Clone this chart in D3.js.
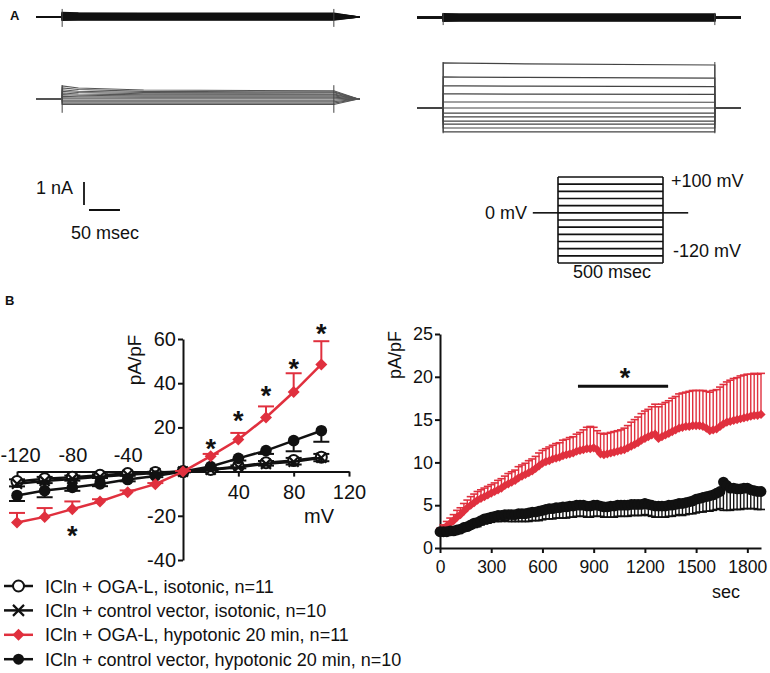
<!DOCTYPE html>
<html><head><meta charset="utf-8">
<script src="https://cdn.jsdelivr.net/npm/d3@7"></script>
<style>
body{margin:0;background:#fff}
svg text{font-family:"Liberation Sans",Arial,Helvetica,sans-serif;fill:#111}
</style>
</head><body><script>
// ================= DATA =================
// Panel A – current traces (nA relative to holding level), sampled at 0, 30, 150 and 500 ms of the step
const traceSampleMs = [0,30,150,500];
const isoLeftT0     = [0.19,0.16,0.13,0.10,0.07,0.04,0.01,-0.02,-0.05,-0.08,-0.11,-0.14];
const isoLeftT30    = [0.17,0.15,0.12,0.09,0.06,0.03,0.00,-0.03,-0.06,-0.08,-0.11,-0.13];
const isoLeftT150   = [0.16,0.14,0.12,0.09,0.06,0.03,0.00,-0.03,-0.06,-0.08,-0.11,-0.13];
const isoLeftT500   = [0.16,0.14,0.12,0.09,0.06,0.03,0.00,-0.03,-0.06,-0.08,-0.11,-0.13];
const hypoLeftT0    = [0.57,0.48,0.40,0.33,0.26,0.19,0.12,0.05,-0.05,-0.12,-0.18,-0.24];
const hypoLeftT30   = [0.48,0.41,0.34,0.28,0.22,0.16,0.10,0.04,-0.05,-0.12,-0.18,-0.24];
const hypoLeftT150  = [0.39,0.33,0.28,0.23,0.18,0.13,0.08,0.03,-0.05,-0.12,-0.18,-0.24];
const hypoLeftT500  = [0.36,0.31,0.27,0.22,0.18,0.13,0.08,0.03,-0.05,-0.12,-0.18,-0.24];
const isoRightT0    = [0.16,0.13,0.10,0.08,0.05,0.02,-0.01,-0.04,-0.07,-0.10,-0.13,-0.16];
const isoRightT30   = [0.15,0.12,0.10,0.07,0.05,0.02,-0.01,-0.04,-0.07,-0.10,-0.13,-0.15];
const isoRightT150  = [0.15,0.12,0.10,0.07,0.05,0.02,-0.01,-0.04,-0.07,-0.10,-0.13,-0.15];
const isoRightT500  = [0.15,0.12,0.10,0.07,0.05,0.02,-0.01,-0.04,-0.07,-0.10,-0.13,-0.15];
const hypoRightT0   = [1.96,1.35,0.96,0.61,0.26,0.00,-0.22,-0.39,-0.57,-0.70,-0.87,-1.04];
const hypoRightT30  = [1.95,1.34,0.96,0.61,0.26,0.00,-0.22,-0.39,-0.57,-0.70,-0.87,-1.04];
const hypoRightT150 = [1.92,1.33,0.95,0.60,0.26,0.00,-0.22,-0.39,-0.57,-0.70,-0.87,-1.04];
const hypoRightT500 = [1.87,1.30,0.93,0.59,0.25,0.00,-0.22,-0.39,-0.57,-0.70,-0.87,-1.04];
const spikeIsoLeft = [0.35,-0.43], spikeHypoLeft = [0.6,-0.6];
const spikeIsoRight = [0.2,-0.33], spikeHypoRight = [2.0,-1.1];
const protocolLevels = [100,80,60,40,20,0,-20,-40,-60,-80,-100,-120,-140];

// Panel B left – I/V relation (pA/pF)
const ivVoltages   = [-120,-100,-80,-60,-40,-20,0,20,40,60,80,100];
const ivOgaIso     = [-4.5,-3.2,-2.5,-1.7,-0.9,-0.4,0,1.0,2.3,4.0,5.0,6.5];
const ivOgaIsoErr  = [1.0,0.8,0.7,0.5,0.4,0.3,0.2,0.3,0.5,0.8,1.2,1.5];
const ivCtrlIso    = [-5.5,-4.2,-3.3,-2.3,-1.4,-0.6,0,0.8,2.0,3.5,4.5,6.3];
const ivCtrlIsoErr = [1.2,1.0,0.8,0.6,0.5,0.3,0.2,0.3,0.5,0.8,1.3,1.6];
const ivOgaHypo    = [-23,-20.5,-17,-13.5,-9.3,-5.7,0,7,14.5,24.5,36,48.5];
const ivOgaHypoErr = [4.3,4.0,3.5,1.0,0.8,0.5,0.3,1.0,3.0,5.0,8.5,10.5];
const ivCtrlHypo   = [-10.8,-8.6,-7.2,-5.6,-3.6,-2.0,0,2.3,6.0,9.5,14.0,18.5];
const ivCtrlHypoErr= [2.5,3.0,1.5,1.0,0.8,0.5,0.3,0.8,1.0,1.5,4.8,5.0];
const ivXTicks = [-120,-80,-40,40,80,120];
const ivYTicks = [-40,-20,20,40,60];
const ivStarVoltages = [-80,20,40,60,80,100];
const ivStarValues   = [-26.2,13.1,25.8,37.1,49.3,65.2];

// Panel B right – time course (pA/pF)
const timeSec = [0,20,40,60,80,100,120,140,160,180,200,220,240,260,280,300,320,340,360,380,400,420,440,460,480,500,520,540,560,580,600,620,640,660,680,700,720,740,760,780,800,820,840,860,880,900,920,940,960,980,1000,1020,1040,1060,1080,1100,1120,1140,1160,1180,1200,1220,1240,1260,1280,1300,1320,1340,1360,1380,1400,1420,1440,1460,1480,1500,1520,1540,1560,1580,1600,1620,1640,1660,1680,1700,1720,1740,1760,1780,1800,1820,1840,1860,1880];
const tcOgaHypo = [2.0,2.3,2.6,2.9,3.2,3.6,
 3.9,4.3,4.7,5.0,5.3,5.6,5.8,6.0,6.2,6.4,
 6.6,6.8,7.0,7.3,7.5,7.7,7.9,8.2,8.4,8.6,8.8,9.0,9.3,9.6,9.9,
 10.1,10.2,10.4,10.5,10.6,10.8,10.9,11.0,11.1,11.3,11.4,11.5,11.6,11.6,11.7,
 11.5,11.0,10.9,11.0,11.1,11.2,11.3,11.4,11.5,11.7,11.9,12.1,12.3,12.6,12.8,
 13.0,13.2,13.3,12.8,13.0,13.2,13.4,13.6,13.8,14.0,14.1,14.2,14.2,14.3,14.3,
 14.3,14.2,14.0,13.7,13.8,13.9,14.2,14.5,14.7,14.8,14.9,15.0,15.1,15.2,15.3,15.4,15.5,15.5,15.6];
const tcOgaHypoErr = [0.3,0.4,0.5,0.6,0.7,0.8,
 0.8,0.9,0.9,1.0,1.0,1.0,1.0,1.0,1.0,1.0,
 1.0,1.1,1.1,1.1,1.2,1.2,1.2,1.3,1.3,1.3,1.4,1.4,1.4,1.5,1.5,
 1.5,1.6,1.6,1.7,1.7,1.8,1.8,1.9,1.9,2.0,2.1,2.3,2.5,2.6,2.4,
 2.2,2.4,2.4,2.4,2.4,2.4,2.4,2.4,2.5,2.6,2.8,2.9,3.0,3.1,3.2,
 3.2,3.3,3.5,3.7,3.8,3.8,3.8,3.9,3.9,4.0,4.0,4.0,4.1,4.1,4.1,
 4.1,4.2,4.3,4.5,4.6,4.6,4.6,4.6,4.7,4.8,4.9,4.9,5.0,5.0,5.0,4.9,4.9,4.8,4.8];
const tcCtrlHypo = [1.9,1.9,1.9,2.0,2.0,2.1,
 2.2,2.4,2.5,2.7,2.9,3.0,3.2,3.4,3.5,3.6,
 3.7,3.8,3.8,3.9,3.9,3.9,3.9,4.0,4.0,4.0,4.1,4.2,4.2,4.3,4.4,
 4.5,4.6,4.6,4.7,4.7,4.8,4.8,4.9,4.9,5.0,5.0,5.0,4.9,4.9,5.0,
 5.0,4.9,4.8,4.8,4.9,4.9,5.0,5.0,5.0,5.0,5.1,5.1,5.1,5.1,5.2,
 5.1,5.0,4.9,4.9,4.9,4.9,5.0,5.0,5.1,5.2,5.2,5.3,5.4,5.5,5.7,
 5.8,5.9,6.0,6.1,6.2,6.4,6.6,7.7,7.3,7.0,7.0,6.9,6.9,7.0,7.0,6.8,6.7,6.6,6.6];
const tcCtrlHypoErr = [0.2,0.2,0.2,0.2,0.3,0.3,
 0.3,0.4,0.4,0.4,0.5,0.5,0.5,0.6,0.6,0.6,
 0.6,0.7,0.7,0.7,0.8,0.8,0.8,0.9,0.9,0.9,1.0,1.0,1.0,1.1,1.1,
 1.1,1.2,1.2,1.2,1.2,1.3,1.3,1.3,1.3,1.3,1.3,1.3,1.3,1.3,1.3,
 1.3,1.2,1.2,1.2,1.3,1.3,1.3,1.3,1.3,1.3,1.3,1.3,1.3,1.3,1.3,
 1.3,1.3,1.3,1.3,1.3,1.3,1.3,1.3,1.3,1.3,1.4,1.4,1.4,1.5,1.6,
 1.6,1.7,1.7,1.8,1.8,1.9,2.0,3.3,2.9,2.6,2.5,2.4,2.4,2.4,2.4,2.2,2.1,2.1,2.1];
const tcXTicks = [0,300,600,900,1200,1500,1800];
const tcYTicks = [0,5,10,15,20,25];
const tcSigRange = [808,1336];
const tcSigLevel = 18.9;
const tcStar = [1084,20.6];

const legendLabels = [
  "ICln + OGA-L, isotonic, n=11",
  "ICln + control vector, isotonic, n=10",
  "ICln + OGA-L, hypotonic 20 min, n=11",
  "ICln + control vector, hypotonic 20 min, n=10"
];
const legendSymbols = ["open","cross","diamond","filled"];

// ================= DRAWING =================
const RED = "#e0303e";
const W = 770, H = 673;
const svg = d3.select("body").append("svg").attr("width", W).attr("height", H);
const plain = d => String(d);

// ---------- Panel A ----------
svg.append("text").attr("x", 10).attr("y", 20).attr("font-size", 13).attr("font-weight", "bold").text("A");

const txL = d3.scaleLinear().domain([-50, 550]).range([35, 361]);
const txR = d3.scaleLinear().domain([-50, 550]).range([416, 742]);
const nA = 23; // px per nA
const cy = base => d3.scaleLinear().domain([0, 1]).range([base, base - nA]);

function drawFamily(xs, ys, samples, spike, taper, color, width) {
  const g = svg.append("g");
  const line = d3.line().x(d => xs(d[0])).y(d => ys(d[1]));
  samples[0].forEach((s, i) => {
    const pts = [[-48, 0], [traceSampleMs[0], 0]];
    traceSampleMs.forEach((t, k) => pts.push([t, samples[k][i]]));
    if (taper) pts.push([545, 0]); else pts.push([traceSampleMs[3], 0]);
    pts.push([548, 0]);
    g.append("path").attr("d", line(pts)).attr("fill", "none").attr("stroke", color).attr("stroke-width", width);
  });
  [traceSampleMs[0], traceSampleMs[3]].forEach(t => {
    g.append("line").attr("x1", xs(t)).attr("x2", xs(t)).attr("y1", ys(spike[0])).attr("y2", ys(spike[1]))
      .attr("stroke", "#444").attr("stroke-width", 1);
  });
}
drawFamily(txL, cy(17), [isoLeftT0, isoLeftT30, isoLeftT150, isoLeftT500], spikeIsoLeft, true, "#111", 1.6);
drawFamily(txL, cy(99), [hypoLeftT0, hypoLeftT30, hypoLeftT150, hypoLeftT500], spikeHypoLeft, true, "#555", 1.1);
drawFamily(txR, cy(17.5), [isoRightT0, isoRightT30, isoRightT150, isoRightT500], spikeIsoRight, false, "#111", 1.6);
drawFamily(txR, cy(108), [hypoRightT0, hypoRightT30, hypoRightT150, hypoRightT500], spikeHypoRight, false, "#444", 1.2);

// scale bars
const sbY = cy(205);
svg.append("line").attr("x1", 84).attr("x2", 84).attr("y1", sbY(0)).attr("y2", sbY(1)).attr("stroke", "#111").attr("stroke-width", 1.8);
svg.append("line").attr("x1", 89).attr("x2", 89 + (txL(50) - txL(0)) * 1.14).attr("y1", 210).attr("y2", 210).attr("stroke", "#111").attr("stroke-width", 2);
svg.append("text").attr("x", 36).attr("y", 193.5).attr("font-size", 18).text("1 nA");
svg.append("text").attr("x", 71).attr("y", 238.5).attr("font-size", 18).text("50 msec");

// voltage protocol
const px = d3.scaleLinear().domain([0, 500]).range([558, 663]);
const pv = d3.scaleLinear().domain([100, -140]).range([177, 263]);
const pg = svg.append("g").attr("stroke", "#111").attr("stroke-width", 1.6);
protocolLevels.forEach(v => pg.append("line").attr("x1", px(0)).attr("x2", px(500)).attr("y1", pv(v)).attr("y2", pv(v)));
pg.append("line").attr("x1", px(0)).attr("x2", px(0)).attr("y1", pv(100)).attr("y2", pv(-140));
pg.append("line").attr("x1", px(500)).attr("x2", px(500)).attr("y1", pv(100)).attr("y2", pv(-140));
pg.append("line").attr("x1", px(-120)).attr("x2", px(0)).attr("y1", pv(0)).attr("y2", pv(0));
pg.append("line").attr("x1", px(500)).attr("x2", px(620)).attr("y1", pv(0)).attr("y2", pv(0));
svg.append("text").attr("x", 527).attr("y", pv(0) + 6).attr("font-size", 18).attr("text-anchor", "end").text("0 mV");
svg.append("text").attr("x", 671).attr("y", 186.5).attr("font-size", 18).text("+100 mV");
svg.append("text").attr("x", 673).attr("y", 256.5).attr("font-size", 18).text("-120 mV");
svg.append("text").attr("x", 612).attr("y", 278).attr("font-size", 18).attr("text-anchor", "middle").text("500 msec");

// ---------- Panel B ----------
svg.append("text").attr("x", 5).attr("y", 305).attr("font-size", 13).attr("font-weight", "bold").text("B");

function marker(g, type, x, y, r) {
  if (type === "open") {
    g.append("circle").attr("cx", x).attr("cy", y).attr("r", r).attr("fill", "#fff").attr("stroke", "#111").attr("stroke-width", 2);
  } else if (type === "cross") {
    g.append("path").attr("d", `M${x - r},${y - r}L${x + r},${y + r}M${x - r},${y + r}L${x + r},${y - r}`)
      .attr("stroke", "#111").attr("stroke-width", 2.2).attr("fill", "none");
  } else if (type === "diamond") {
    g.append("path").attr("d", `M${x},${y - r}L${x + r},${y}L${x},${y + r}L${x - r},${y}Z`).attr("fill", RED);
  } else {
    g.append("circle").attr("cx", x).attr("cy", y).attr("r", r).attr("fill", "#111");
  }
}

function axisStyle(g, fs) {
  g.selectAll("path.domain").attr("stroke", "#111").attr("stroke-width", 2);
  g.selectAll(".tick line").attr("stroke", "#111").attr("stroke-width", 2);
  g.selectAll(".tick text").attr("font-size", fs).attr("fill", "#111").attr("font-family", '"Liberation Sans",Arial,sans-serif');
}

// ---- I/V plot ----
const ivX = d3.scaleLinear().domain([-120, 120]).range([17, 349]);
const ivY = d3.scaleLinear().domain([-40, 60]).range([560, 339]);
const ivG = svg.append("g");

const gx = ivG.append("g").attr("transform", `translate(0,${ivY(0)})`)
  .call(d3.axisBottom(ivX).tickValues(ivXTicks).tickSize(5).tickSizeOuter(0).tickPadding(8).tickFormat(plain));
axisStyle(gx, 20);
gx.selectAll(".tick text").filter(d => d < 0).attr("y", -10).attr("dy", 0);
gx.selectAll(".tick text").filter(d => d === -120).attr("dx", 3);
const gy = ivG.append("g").attr("transform", `translate(${ivX(0)},0)`)
  .call(d3.axisLeft(ivY).tickValues(ivYTicks).tickSize(5).tickSizeOuter(0).tickPadding(2).tickFormat(plain));
axisStyle(gy, 20);
ivG.append("text").attr("transform", `translate(141,360) rotate(-90)`).attr("text-anchor", "middle").attr("font-size", 19).text("pA/pF");
ivG.append("text").attr("x", 319).attr("y", 523).attr("text-anchor", "middle").attr("font-size", 20).text("mV");

const ivSeries = [
  {v: ivOgaIso, e: ivOgaIsoErr, dir: 1, color: "#111", sym: "open", r: 5.5},
  {v: ivCtrlIso, e: ivCtrlIsoErr, dir: -1, color: "#111", sym: "cross", r: 5},
  {v: ivCtrlHypo, e: ivCtrlHypoErr, dir: -1, color: "#111", sym: "filled", r: 5.8},
  {v: ivOgaHypo, e: ivOgaHypoErr, dir: 1, color: RED, sym: "diamond", r: 6}
];
const ivLine = d3.line().x((d, i) => ivX(ivVoltages[i])).y(d => ivY(d));
ivSeries.forEach(s => {
  const g = ivG.append("g");
  s.v.forEach((val, i) => {
    const x = ivX(ivVoltages[i]), y0 = ivY(val), y1 = ivY(val + s.dir * s.e[i]);
    g.append("line").attr("x1", x).attr("x2", x).attr("y1", y0).attr("y2", y1).attr("stroke", s.color).attr("stroke-width", 2);
    g.append("line").attr("x1", x - 8).attr("x2", x + 8).attr("y1", y1).attr("y2", y1).attr("stroke", s.color).attr("stroke-width", 2);
  });
  g.append("path").attr("d", ivLine(s.v)).attr("fill", "none").attr("stroke", s.color).attr("stroke-width", 2.5);
  s.v.forEach((val, i) => marker(g, s.sym, ivX(ivVoltages[i]), ivY(val), s.r));
});
ivStarVoltages.forEach((v, i) => {
  ivG.append("text").attr("x", ivX(v)).attr("y", ivY(ivStarValues[i]) + 15).attr("text-anchor", "middle")
    .attr("font-size", 27).attr("font-weight", "bold").text("*");
});

// legend
legendLabels.forEach((lab, i) => {
  const y = 586 + i * 24.4;
  const g = svg.append("g");
  g.append("line").attr("x1", 4).attr("x2", 33).attr("y1", y).attr("y2", y)
    .attr("stroke", legendSymbols[i] === "diamond" ? RED : "#111").attr("stroke-width", 2.5);
  marker(g, legendSymbols[i], 18.5, y, legendSymbols[i] === "diamond" ? 6 : 5.5);
  g.append("text").attr("x", 45).attr("y", y + 6.5).attr("font-size", 18).text(lab);
});

// ---- time course ----
const tX = d3.scaleLinear().domain([0, 1880]).range([440, 761]);
const tY = d3.scaleLinear().domain([0, 25]).range([548, 334]);
const tG = svg.append("g");
const tgx = tG.append("g").attr("transform", `translate(0,${tY(0)})`)
  .call(d3.axisBottom(tX).tickValues(tcXTicks).tickSize(5).tickSizeOuter(0).tickPadding(8).tickFormat(plain));
axisStyle(tgx, 17.5);
const tgy = tG.append("g").attr("transform", `translate(${tX(0)},0)`)
  .call(d3.axisLeft(tY).tickValues(tcYTicks).tickSize(5).tickSizeOuter(0).tickPadding(2).tickFormat(plain));
axisStyle(tgy, 18);
tG.append("text").attr("transform", `translate(401,355) rotate(-90)`).attr("text-anchor", "middle").attr("font-size", 18).text("pA/pF");
tG.append("text").attr("x", 726).attr("y", 598).attr("text-anchor", "middle").attr("font-size", 18).text("sec");

const tLine = d3.line().x((d, i) => tX(timeSec[i])).y(d => tY(d));
[{v: tcOgaHypo, e: tcOgaHypoErr, dir: 1, color: RED, sym: "diamond", r: 4.6},
 {v: tcCtrlHypo, e: tcCtrlHypoErr, dir: -1, color: "#111", sym: "filled", r: 5.4}].forEach(s => {
  const g = tG.append("g");
  s.v.forEach((val, i) => {
    const x = tX(timeSec[i]), y1 = tY(val + s.dir * s.e[i]);
    g.append("line").attr("x1", x).attr("x2", x).attr("y1", tY(val)).attr("y2", y1).attr("stroke", s.color).attr("stroke-width", 1.4);
    g.append("line").attr("x1", x - 4).attr("x2", x + 4).attr("y1", y1).attr("y2", y1).attr("stroke", s.color).attr("stroke-width", 1.6);
  });
  g.append("path").attr("d", tLine(s.v)).attr("fill", "none").attr("stroke", s.color).attr("stroke-width", 2.5);
  s.v.forEach((val, i) => marker(g, s.sym, tX(timeSec[i]), tY(val), s.r));
});
tG.append("line").attr("x1", tX(tcSigRange[0])).attr("x2", tX(tcSigRange[1])).attr("y1", tY(tcSigLevel)).attr("y2", tY(tcSigLevel))
  .attr("stroke", "#111").attr("stroke-width", 3);
tG.append("text").attr("x", tX(tcStar[0])).attr("y", tY(tcStar[1]) + 15).attr("text-anchor", "middle")
  .attr("font-size", 27).attr("font-weight", "bold").text("*");
</script></body></html>
